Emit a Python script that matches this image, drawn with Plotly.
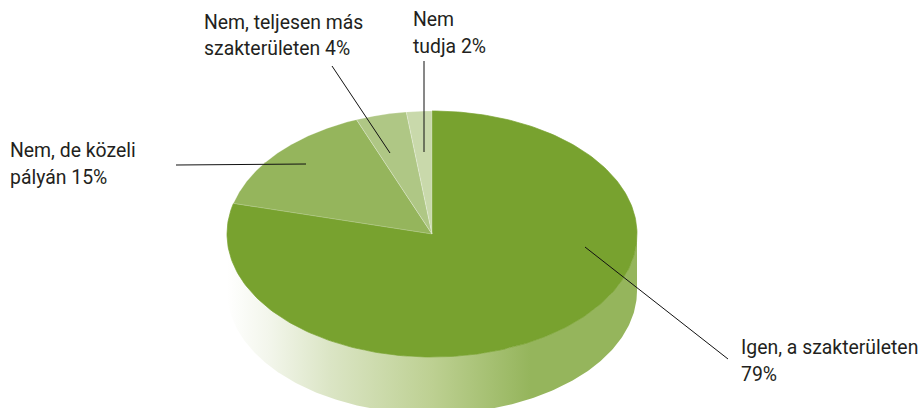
import numpy as np
import plotly.graph_objects as go

categories = ["Igen, a szakterületen", "Nem, de közeli pályán", "Nem, teljesen más szakterületen", "Nem tudja"]
values = [79, 15, 4, 2]
slice_colors = ["#78a22f", "#95b55c", "#afc785", "#c9d9ab"]
label_lines = ["Igen, a szakterületen", "79%", "Nem, de közeli", "pályán 15%", "Nem, teljesen más", "szakterületen 4%", "Nem", "tudja 2%"]

W, H = 923, 408
CX, CY, RX, RY, DEPTH = 432, 234, 205, 123, 57
FONT = "Roboto"

def rim(a0, a1, n=240):
    t = np.radians(np.linspace(a0, a1, n))
    return CX + RX * np.sin(t), CY - RY * np.cos(t)

fig = go.Figure()

# side wall: front half of the ellipse extruded downward
xf, yf = rim(90, 270)
fig.add_trace(go.Scatter(
    x=np.r_[xf, xf[::-1]], y=np.r_[yf, yf[::-1] + DEPTH],
    mode="lines", line=dict(width=0), fill="toself", hoverinfo="skip",
    fillgradient=dict(type="horizontal", colorscale=[
        [0, "#ffffff"], [0.1, "#f3f6ec"], [0.25, "#dbe5c5"], [0.5, "#bdd092"], [0.74, "#95b55c"], [1, "#95b55c"]]),
))

# top face, one slice per value
total = sum(values)
start = 0.0
for name, v, c in zip(categories, values, slice_colors):
    end = start + 360.0 * v / total
    x, y = rim(start, end)
    fig.add_trace(go.Scatter(
        x=np.r_[CX, x, CX], y=np.r_[CY, y, CY], name=name,
        mode="lines", line=dict(width=0.7, color="rgba(255,255,255,0.35)" if c != slice_colors[0] else c),
        fill="toself", fillcolor=c, hoverinfo="name",
    ))
    start = end

leaders = [(585, 247, 728, 359), (176, 165, 306, 164), (332, 66, 390, 153), (424, 61, 424, 152)]
for x0, y0, x1, y1 in leaders:
    fig.add_shape(type="line", x0=x0, y0=y0, x1=x1, y1=y1, line=dict(color="#111111", width=1), layer="above")

label_pos = [(739, 347), (739, 374), (8, 150), (8, 177), (202, 22), (202, 48), (411, 19), (411, 46)]
for (x, y), t in zip(label_pos, label_lines):
    fig.add_annotation(x=x, y=y, text=t, xanchor="left", yanchor="middle", align="left",
                       showarrow=False, font=dict(family=FONT, size=19.4, color="#231f20"))

fig.update_layout(
    width=W, height=H, autosize=False, showlegend=False,
    margin=dict(l=0, r=0, t=0, b=0), paper_bgcolor="white", plot_bgcolor="white",
    xaxis=dict(range=[0, W], visible=False, fixedrange=True),
    yaxis=dict(range=[H, 0], visible=False, fixedrange=True),
)
fig.write_html("out.html", config=dict(displayModeBar=False, responsive=False),
               post_script="document.body.style.margin='0';document.documentElement.style.overflow='hidden';")
